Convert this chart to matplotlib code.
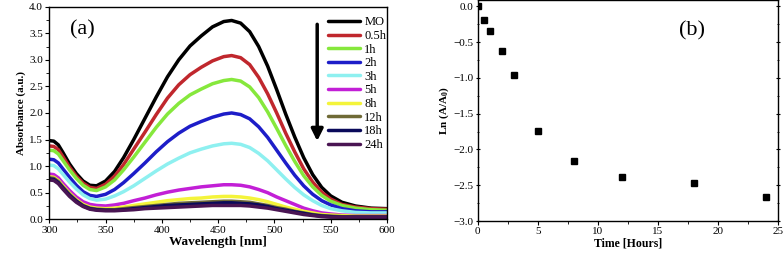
import numpy as np
import matplotlib
matplotlib.use("Agg")
import matplotlib.pyplot as plt
from matplotlib.ticker import MultipleLocator

plt.rcParams["font.family"] = ["Liberation Serif", "DejaVu Serif"]
plt.rcParams["mathtext.fontset"] = "custom"
plt.rcParams["mathtext.rm"] = "Liberation Serif"
plt.rcParams["mathtext.bf"] = "Liberation Serif:bold"

# --- panel (a): UV-vis spectra, absorbance ---
wavelength = [300, 304, 308, 312, 318, 324, 330, 336, 342, 350, 358, 366, 375, 385,
              395, 405, 415, 425, 435, 445, 455, 462, 470, 478, 486, 494, 502, 510,
              518, 526, 534, 542, 550, 560, 572, 586, 600]
labels = ["MO", "0.5h", "1h", "2h", "3h", "5h", "8h", "12h", "18h", "24h"]
colors = ["#000000", "#c0272d", "#86e83c", "#1d1dc8", "#8ef0f0",
          "#c21fd6", "#f4f43a", "#6f6a36", "#0a0a5a", "#4a1553"]
abs_mo = [1.48, 1.47, 1.40, 1.26, 1.04, 0.86, 0.72, 0.64, 0.63, 0.72, 0.90, 1.16, 1.50, 1.90,
          2.30, 2.68, 3.00, 3.26, 3.45, 3.62, 3.72, 3.74, 3.69, 3.53, 3.25, 2.88, 2.44, 1.98,
          1.55, 1.16, 0.84, 0.60, 0.44, 0.32, 0.25, 0.21, 0.20]
abs_05h = [1.38, 1.37, 1.31, 1.18, 0.98, 0.81, 0.68, 0.60, 0.58, 0.66, 0.81, 1.03, 1.32, 1.64,
           1.97, 2.28, 2.53, 2.72, 2.86, 2.98, 3.06, 3.08, 3.04, 2.91, 2.67, 2.36, 2.00, 1.62,
           1.27, 0.95, 0.70, 0.51, 0.38, 0.28, 0.23, 0.20, 0.19]
abs_1h = [1.30, 1.29, 1.23, 1.11, 0.93, 0.77, 0.64, 0.56, 0.54, 0.61, 0.74, 0.93, 1.17, 1.45,
          1.73, 1.98, 2.18, 2.34, 2.45, 2.55, 2.61, 2.63, 2.60, 2.49, 2.29, 2.02, 1.71, 1.39,
          1.09, 0.82, 0.61, 0.45, 0.34, 0.26, 0.21, 0.18, 0.17]
abs_2h = [1.13, 1.12, 1.06, 0.95, 0.79, 0.64, 0.52, 0.45, 0.43, 0.47, 0.56, 0.69, 0.86, 1.06,
          1.27, 1.46, 1.62, 1.75, 1.84, 1.92, 1.98, 2.00, 1.97, 1.89, 1.74, 1.54, 1.30, 1.06,
          0.83, 0.63, 0.47, 0.35, 0.27, 0.20, 0.16, 0.14, 0.14]
abs_3h = [1.02, 1.01, 0.95, 0.85, 0.70, 0.57, 0.46, 0.39, 0.36, 0.38, 0.44, 0.52, 0.63, 0.77,
          0.91, 1.04, 1.15, 1.25, 1.32, 1.38, 1.42, 1.43, 1.41, 1.35, 1.24, 1.10, 0.93, 0.76,
          0.60, 0.46, 0.35, 0.26, 0.20, 0.16, 0.13, 0.12, 0.12]
abs_5h = [0.85, 0.84, 0.78, 0.68, 0.54, 0.42, 0.33, 0.28, 0.26, 0.25, 0.27, 0.30, 0.35, 0.40,
          0.46, 0.51, 0.55, 0.58, 0.61, 0.63, 0.65, 0.65, 0.64, 0.61, 0.56, 0.50, 0.42, 0.35,
          0.28, 0.21, 0.16, 0.12, 0.10, 0.08, 0.07, 0.07, 0.07]
abs_8h = [0.80, 0.79, 0.73, 0.63, 0.49, 0.37, 0.28, 0.23, 0.21, 0.20, 0.21, 0.23, 0.26, 0.29,
          0.32, 0.35, 0.37, 0.39, 0.40, 0.42, 0.43, 0.43, 0.42, 0.40, 0.37, 0.33, 0.28, 0.23,
          0.19, 0.15, 0.12, 0.09, 0.08, 0.07, 0.06, 0.06, 0.06]
abs_12h = [0.78, 0.77, 0.71, 0.61, 0.47, 0.35, 0.26, 0.21, 0.19, 0.18, 0.18, 0.20, 0.22, 0.24,
           0.26, 0.28, 0.30, 0.31, 0.32, 0.33, 0.34, 0.34, 0.33, 0.32, 0.29, 0.26, 0.22, 0.19,
           0.15, 0.12, 0.09, 0.07, 0.06, 0.05, 0.05, 0.05, 0.05]
abs_18h = [0.76, 0.75, 0.69, 0.59, 0.45, 0.34, 0.25, 0.20, 0.18, 0.17, 0.17, 0.18, 0.20, 0.22,
           0.24, 0.26, 0.27, 0.28, 0.29, 0.30, 0.31, 0.31, 0.30, 0.29, 0.27, 0.24, 0.20, 0.17,
           0.14, 0.11, 0.08, 0.06, 0.05, 0.04, 0.04, 0.04, 0.04]
abs_24h = [0.74, 0.73, 0.67, 0.57, 0.43, 0.32, 0.24, 0.19, 0.17, 0.16, 0.16, 0.17, 0.18, 0.20,
           0.21, 0.22, 0.23, 0.24, 0.25, 0.26, 0.26, 0.26, 0.26, 0.25, 0.23, 0.21, 0.18, 0.15,
           0.12, 0.09, 0.07, 0.05, 0.04, 0.04, 0.04, 0.04, 0.04]
spectra = [abs_mo, abs_05h, abs_1h, abs_2h, abs_3h, abs_5h, abs_8h, abs_12h, abs_18h, abs_24h]

# --- panel (b): kinetics ---
time_h = [0, 0.5, 1, 2, 3, 5, 8, 12, 18, 24]
ln_ratio = [0.0, -0.19, -0.35, -0.62, -0.96, -1.74, -2.16, -2.38, -2.47, -2.66]

fig = plt.figure(figsize=(7.84, 2.56), dpi=100)
ax1 = fig.add_axes([0.0629, 0.1434, 0.4307, 0.8306])
ax2 = fig.add_axes([0.6093, 0.1367, 0.3827, 0.8633])

for ys, c, lab in zip(spectra, colors, labels):
    ax1.plot(wavelength, ys, color=c, lw=2.5, label=lab,
             solid_capstyle="round", solid_joinstyle="round")
ax1.set_xlim(300, 600)
ax1.set_ylim(0, 4.0)
ax1.xaxis.set_major_locator(MultipleLocator(50))
ax1.xaxis.set_minor_locator(MultipleLocator(25))
ax1.yaxis.set_major_locator(MultipleLocator(0.5))
ax1.yaxis.set_minor_locator(MultipleLocator(0.25))
ax1.set_xlabel("Wavelength [nm]", fontsize=9.5, fontweight="bold", labelpad=1)
ax1.set_ylabel("Absorbance (a.u.)", fontsize=8, fontweight="bold", labelpad=2)
ax1.text(0.06, 0.87, "(a)", transform=ax1.transAxes, fontsize=16)
ax1.legend(loc="upper right", bbox_to_anchor=(1.02, 0.99), frameon=False, fontsize=9,
           handlelength=2.6, handletextpad=0.3, labelspacing=0.13, borderaxespad=0.2)
ax1.annotate("", xy=(538, 1.42), xytext=(538, 3.72),
             arrowprops=dict(arrowstyle="-|>,head_width=0.35,head_length=0.7",
                             color="black", lw=2.5))

ax2.plot(time_h, ln_ratio, ls="none", marker="s", ms=4, color="black")
ax2.set_xlim(0, 25)
ax2.set_ylim(-3.0, 0.09)
ax2.xaxis.set_major_locator(MultipleLocator(5))
ax2.xaxis.set_minor_locator(MultipleLocator(2.5))
ax2.yaxis.set_major_locator(MultipleLocator(0.5))
ax2.yaxis.set_minor_locator(MultipleLocator(0.25))
ax2.set_xlabel("Time [Hours]", fontsize=8.5, fontweight="bold", labelpad=1)
ax2.set_ylabel(r"Ln (A/A$_\mathbf{0}$)", fontsize=8, fontweight="bold", labelpad=2)
ax2.text(0.67, 0.84, "(b)", transform=ax2.transAxes, fontsize=16)

for ax in (ax1, ax2):
    ax.tick_params(which="major", direction="out", length=3, width=0.8, labelsize=8, pad=1.5)
    ax.tick_params(which="minor", direction="out", length=2, width=0.6)
    for s in ax.spines.values():
        s.set_linewidth(1.0)
ax2.tick_params(which="both", axis="y", right=True)
ax2.yaxis.set_tick_params(which="both", direction="inout")

fig.savefig("out.png", dpi=100)
